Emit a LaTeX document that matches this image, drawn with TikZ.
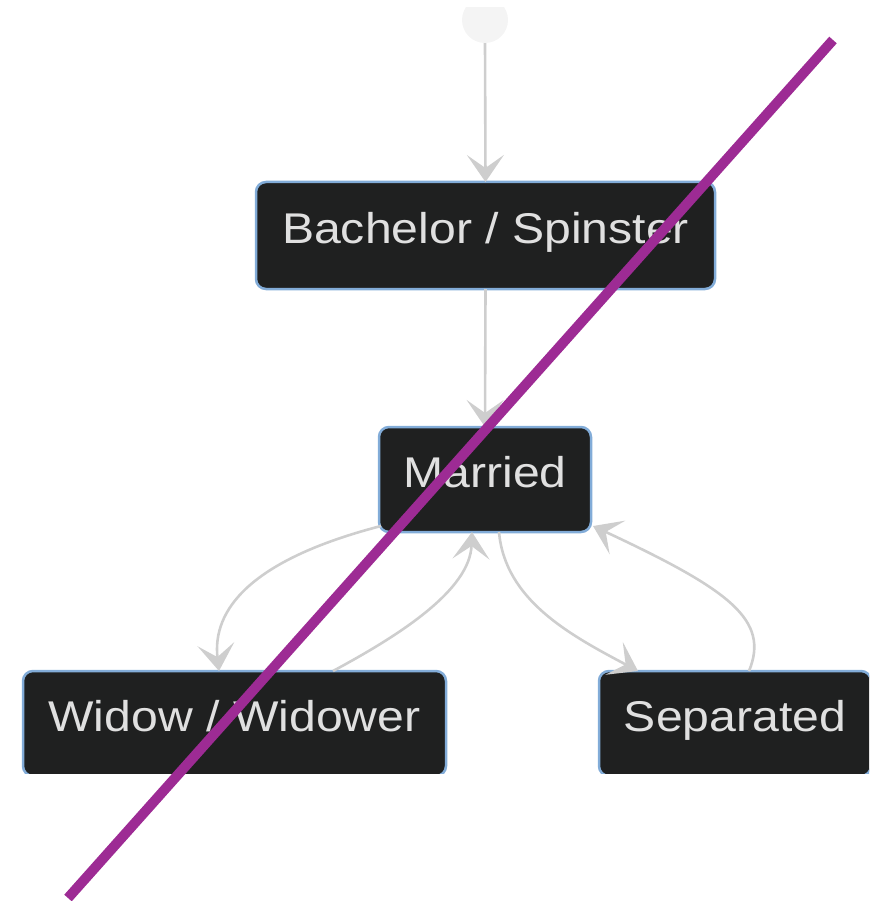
\documentclass[tikz,border=0pt]{standalone}
\usepackage{fontspec}
\setmainfont{Liberation Sans}
\usetikzlibrary{arrows.meta,calc}

\definecolor{statefill}{RGB}{31,32,32}
\definecolor{stateborder}{RGB}{130,172,216}
\definecolor{statetext}{RGB}{224,224,224}
\definecolor{edgegrey}{RGB}{206,206,206}
\definecolor{startgrey}{RGB}{244,244,244}
\definecolor{strike}{RGB}{157,43,148}

% state labels are set slightly widened
\newcommand{\widelabel}[1]{\scalebox{1.12}[1]{#1}}

\tikzset{
  state/.style={draw=stateborder, line width=2.5, fill=statefill,
    rounded corners=10, text=statetext, inner sep=0, outer sep=0,
    font=\fontsize{43}{50}\selectfont, text height=24, text depth=8},
  startdot/.style={circle, fill=startgrey, draw=none, inner sep=0,
    minimum size=46},
  transition/.style={draw=edgegrey, line width=2.6,
    -{Stealth[length=27, width=37, inset=13]}},
  strikeline/.style={draw=strike, line width=10}
}

\begin{document}
\begin{tikzpicture}[x=1pt, y=-1pt]
\useasboundingbox (0,0) rectangle (869,901);

\begin{scope}
  \clip (0,8) rectangle (869,773);

  % states
  \node[startdot] (start) at (485,20) {};
  \node[state, minimum width=459, minimum height=107] (bachelor) at (485.5,235.5) {\widelabel{Bachelor / Spinster}};
  \node[state, minimum width=212, minimum height=105] (married) at (485,479.5) {\widelabel{Married}};
  \node[state, minimum width=423, minimum height=105] (widow) at (234.5,723.5) {\widelabel{Widow / Widower}};
  \node[state, minimum width=272, minimum height=105] (separated) at (735,723.5) {\widelabel{Separated}};

  % transitions
  \draw[transition] (start.south) -- (bachelor.north);
  \draw[transition] (bachelor.south) -- (married.north);
  \draw[transition] ($(married.south west)+(2,-6)$)
      .. controls (250,560) and (212,610) .. ($(widow.north west)+(196,0)$);
  \draw[transition] ($(widow.north west)+(310,0)$)
      .. controls (400,635) and (470,590) .. ($(married.south)+(-13,0)$);
  \draw[transition] ($(married.south)+(14,0)$)
      .. controls (505,600) and (570,635) .. ($(separated.north west)+(39,0)$);
  \draw[transition] ($(separated.north west)+(150,0)$)
      .. controls (770,620) and (730,590) .. ($(married.south east)+(2,-6)$);
\end{scope}

% diagonal strike-through
\coordinate (strikeA) at (833,40);
\coordinate (strikeB) at (68,898);
\draw[strikeline] (strikeA) -- (strikeB);
\end{tikzpicture}
\end{document}
